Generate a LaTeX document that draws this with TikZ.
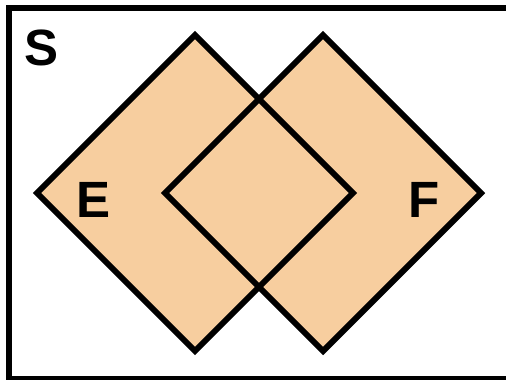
\documentclass[tikz,border=0pt]{standalone}
\usepackage{fontspec}
\setmainfont{Liberation Sans}
\definecolor{venn}{RGB}{247,206,159}
\begin{document}
\begin{tikzpicture}[x=1pt,y=-1pt,
  setline/.style={line width=6pt,line join=miter},
  lab/.style={font=\fontsize{51}{51}\selectfont\bfseries,inner sep=0pt,anchor=center}]
\useasboundingbox (0,0) rectangle (506,380);
\draw[setline] (9,7.5) rectangle (508.6,378.5);
\coordinate (Et) at (195,35); \coordinate (Er) at (353,193);
\coordinate (Eb) at (195,351); \coordinate (El) at (37,193);
\coordinate (Ft) at (323,35); \coordinate (Fr) at (481,193);
\coordinate (Fb) at (323,351); \coordinate (Fl) at (165,193);
\fill[venn] (Et) -- (Er) -- (Eb) -- (El) -- cycle;
\fill[venn] (Ft) -- (Fr) -- (Fb) -- (Fl) -- cycle;
\draw[setline] (Et) -- (Er) -- (Eb) -- (El) -- cycle;
\draw[setline] (Ft) -- (Fr) -- (Fb) -- (Fl) -- cycle;
\node[lab] (S) at (42,48) {S};
\node[lab] (E) at (93.5,200) {E};
\node[lab] (F) at (424.5,200) {F};
\end{tikzpicture}
\end{document}
